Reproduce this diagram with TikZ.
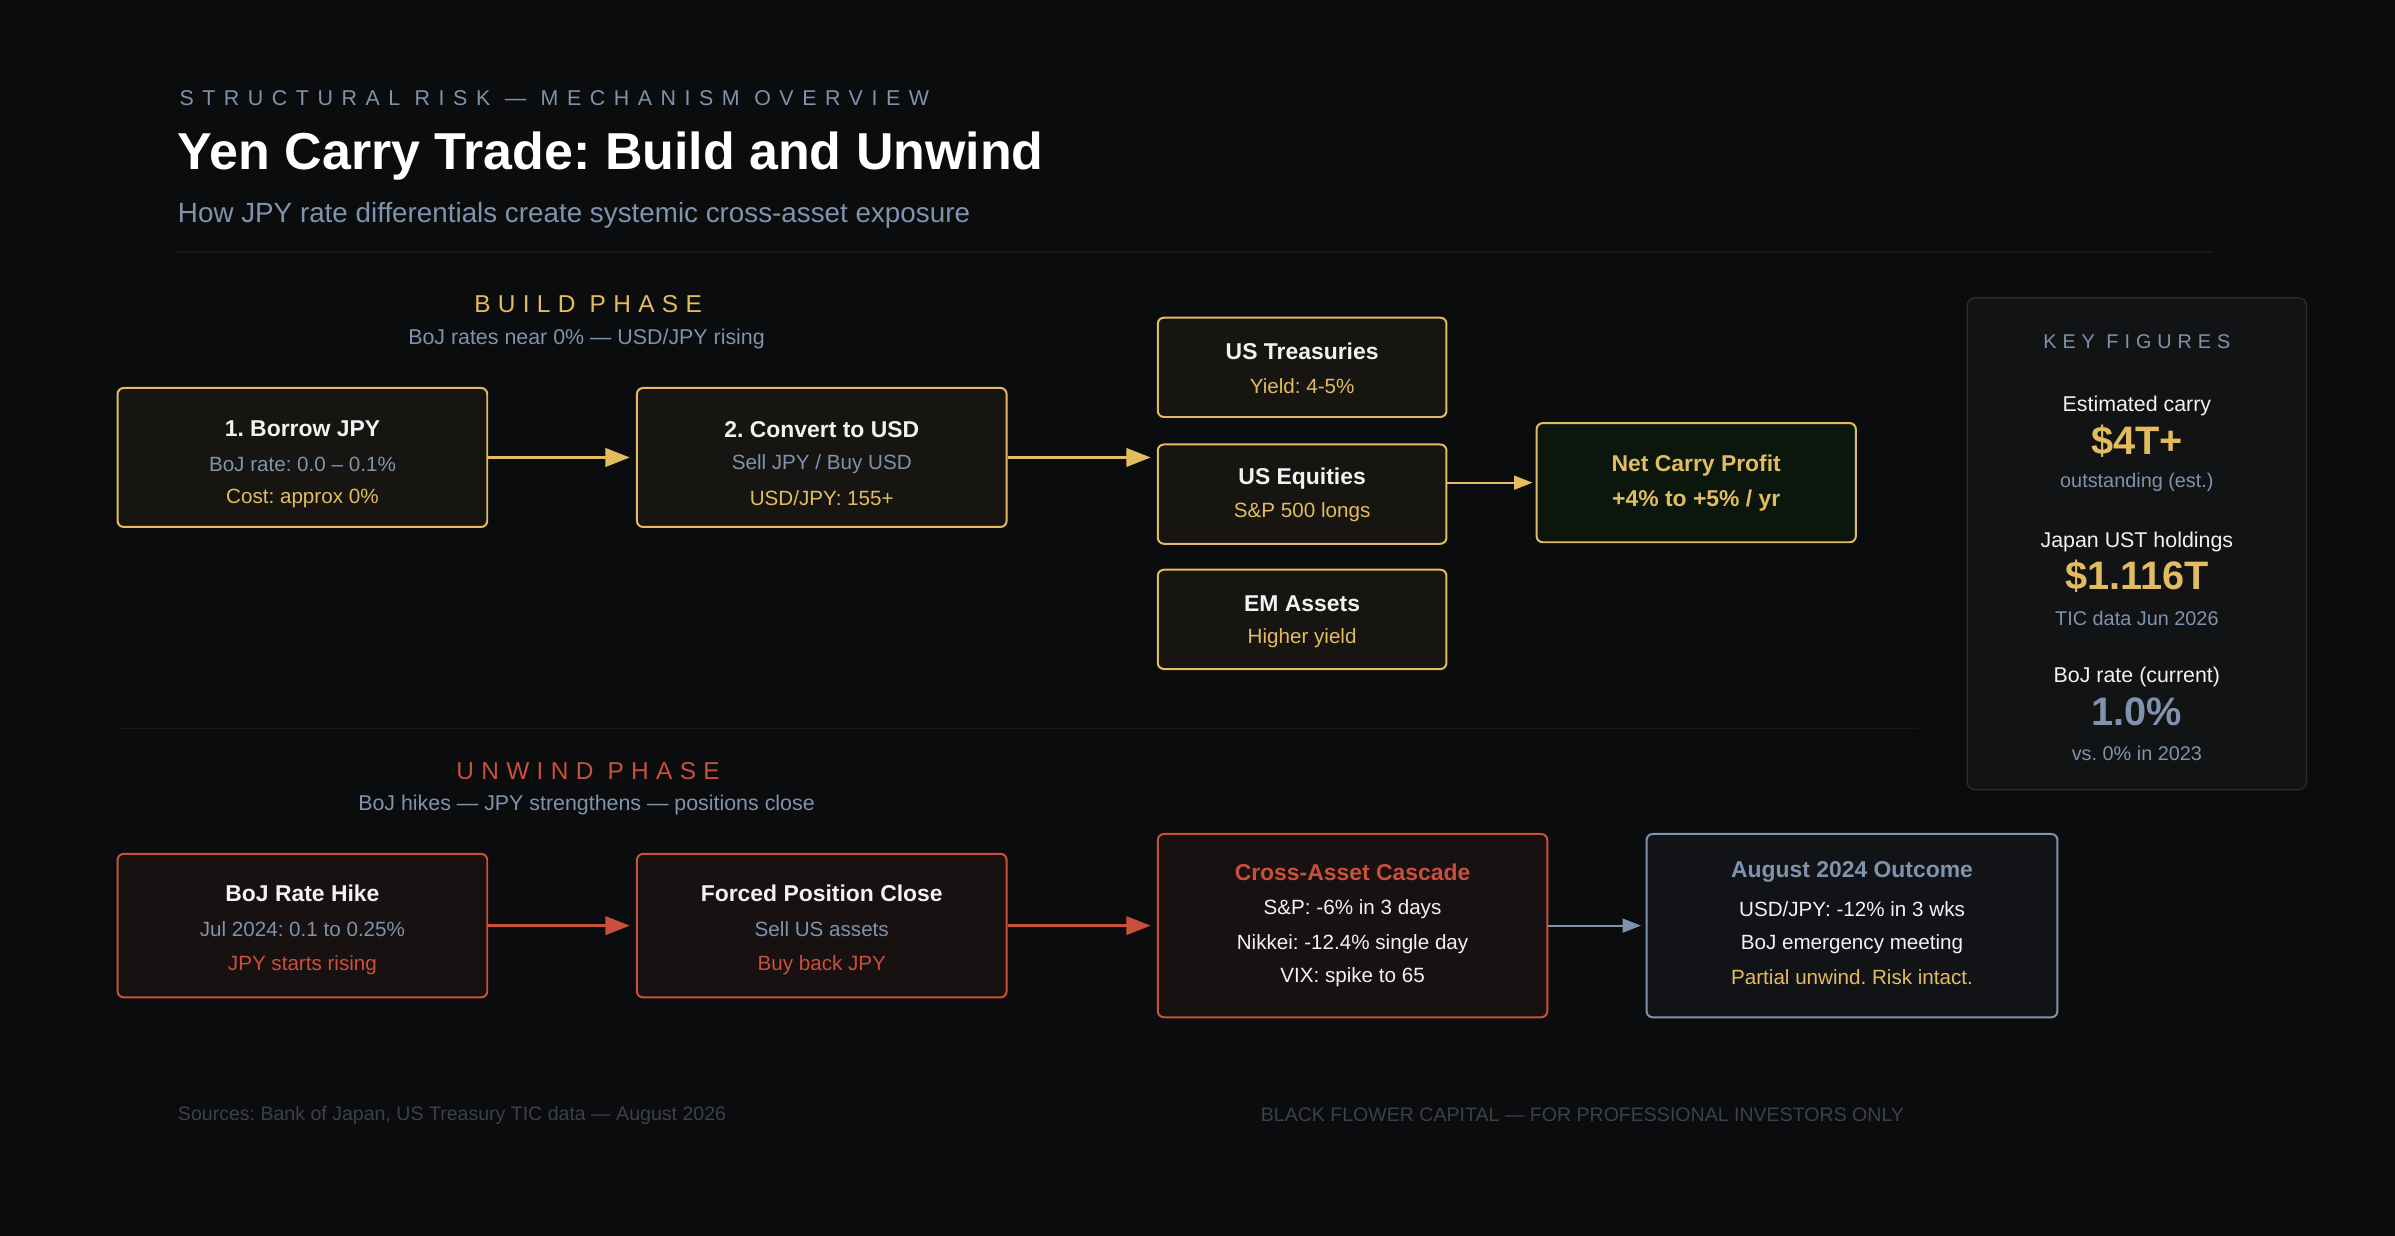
\documentclass[tikz,border=0pt]{standalone}
\usepackage{fontspec}
\setmainfont{Liberation Sans}
\newfontfamily\spacedf[LetterSpace=40]{Liberation Sans}
\newfontfamily\spacedg[LetterSpace=30]{Liberation Sans}
\usetikzlibrary{arrows.meta}
\definecolor{bg}{HTML}{0B0C0E}
\definecolor{gold}{HTML}{E2BC5E}
\definecolor{redc}{HTML}{C9503D}
\definecolor{slate}{HTML}{7F93AD}
\definecolor{dimt}{HTML}{3C4048}
\definecolor{ltxt}{HTML}{F2F2F2}
\tikzset{
 box/.style={draw, line width=1.3pt, rounded corners=4pt, align=center, inner sep=0pt},
 gbox/.style={box, draw=gold, fill=gold!5!bg},
 rbox/.style={box, draw=redc, fill=redc!7!bg},
 sbox/.style={box, draw=slate, fill=slate!5!bg},
 hd/.style={font=\fontsize{15}{18}\selectfont\bfseries, text=ltxt},
 sub/.style={font=\fontsize{13.5}{16}\selectfont},
 arr/.style={line width=2pt, -{Triangle[length=16pt,width=12pt]}},
}
\newcommand{\fs}[1]{\fontsize{#1}{#1}\selectfont}
\frenchspacing
\begin{document}
\frenchspacing
\begin{tikzpicture}[x=1pt,y=-1pt]
\fill[bg] (0,0) rectangle (1568,809);
\useasboundingbox (0,0) rectangle (1568,809);
% header
\node[anchor=west,text=slate,font=\spacedf\fs{14}] (kick) at (114,64) {STRUCTURAL RISK — MECHANISM OVERVIEW};
\node[anchor=west,text=white,font=\fs{34}\bfseries] (title) at (113,102) {Yen Carry Trade: Build and Unwind};
\node[anchor=west,text=slate,font=\fs{18.2}] (subt) at (113,141) {How JPY rate differentials create systemic cross-asset exposure};
\draw[white!5!bg,line width=0.8pt] (116,165) coordinate (s1) -- (1448,165) coordinate (s2);
% build
\node[text=gold,font=\spacedg\fs{16}] (bp) at (385,199) {BUILD PHASE};
\node[text=slate,font=\fs{14}] (bps) at (384,222) {BoJ rates near 0\% — USD/JPY rising};
\node[gbox,minimum width=242pt,minimum height=91pt] (b1) at (198,299.5) {};
\node[hd] at (198,281) {1. Borrow JPY};
\node[sub,text=slate] at (198,304) {BoJ rate: 0.0 – 0.1\%};
\node[sub,text=gold] at (198,326) {Cost: approx 0\%};
\node[gbox,minimum width=242pt,minimum height=91pt] (b2) at (538,299.5) {};
\node[hd] at (538,281) {2. Convert to USD};
\node[sub,text=slate] at (538,304) {Sell JPY / Buy USD};
\node[sub,text=gold] at (538,326) {USD/JPY: 155+};
\node[gbox,minimum width=189pt,minimum height=65pt] (t1) at (852.5,240.5) {};
\node[hd] at (852.5,230) {US Treasuries};
\node[sub,text=gold] at (852.5,253) {Yield: 4-5\%};
\node[gbox,minimum width=189pt,minimum height=65pt] (t2) at (852.5,323.5) {};
\node[hd] at (852.5,313) {US Equities};
\node[sub,text=gold] at (852.5,335) {S\&P 500 longs};
\node[gbox,minimum width=189pt,minimum height=65pt] (t3) at (852.5,405.5) {};
\node[hd] at (852.5,395) {EM Assets};
\node[sub,text=gold] at (852.5,418) {Higher yield};
\node[box,draw=gold,fill=green!4!bg,minimum width=209pt,minimum height=78pt] (nc) at (1110.5,316) {};
\node[hd,text=gold] at (1110.5,305) {Net Carry Profit};
\node[hd,text=gold] at (1110.5,328) {+4\% to +5\% / yr};
\draw[arr,gold] (b1.east) -- ([xshift=-4pt]b2.west);
\draw[arr,gold] (b2.east) -- ([xshift=-4pt]t2.west|-b2.east);
\draw[gold,line width=1.4pt,-{Triangle[length=12pt,width=9pt]}] (t2.east|-nc.west) -- ([xshift=-2pt]nc.west);
% key figures
\node[draw=white!14!bg,fill=white!3!bg,rounded corners=5pt,line width=0.8pt,minimum width=222pt,minimum height=322pt] (kf) at (1399,356) {};
\node[text=slate,font=\spacedg\fs{13}] at (1399,224) {KEY FIGURES};
\node[text=ltxt,font=\fs{14}] at (1399,266) {Estimated carry};
\node[text=gold,font=\fs{26}\bfseries] at (1399,289) {\$4T+};
\node[text=slate,font=\fs{13}] at (1399,316) {outstanding (est.)};
\node[text=ltxt,font=\fs{14}] at (1399,355) {Japan UST holdings};
\node[text=gold,font=\fs{26}\bfseries] at (1399,377) {\$1.116T};
\node[text=slate,font=\fs{13}] at (1399,405) {TIC data Jun 2026};
\node[text=ltxt,font=\fs{14}] at (1399,443) {BoJ rate (current)};
\node[text=slate,font=\fs{26}\bfseries] at (1399,466) {1.0\%};
\node[text=slate,font=\fs{13}] at (1399,493) {vs. 0\% in 2023};
\draw[white!5!bg,line width=0.8pt] (77,477) coordinate (s3) -- (1255,477) coordinate (s4);
% unwind
\node[text=redc,font=\spacedg\fs{16}] (up) at (385,505) {UNWIND PHASE};
\node[text=slate,font=\fs{14}] (ups) at (384,527) {BoJ hikes — JPY strengthens — positions close};
\node[rbox,minimum width=242pt,minimum height=94pt] (r1) at (198,606) {};
\node[hd] at (198,585) {BoJ Rate Hike};
\node[sub,text=slate] at (198,608) {Jul 2024: 0.1 to 0.25\%};
\node[sub,text=redc] at (198,632) {JPY starts rising};
\node[rbox,minimum width=242pt,minimum height=94pt] (r2) at (538,606) {};
\node[hd] at (538,585) {Forced Position Close};
\node[sub,text=slate] at (538,608) {Sell US assets};
\node[sub,text=redc] at (538,632) {Buy back JPY};
\node[rbox,minimum width=255pt,minimum height=120pt] (r3) at (885.5,606) {};
\node[hd,text=redc] at (885.5,571) {Cross-Asset Cascade};
\node[sub,text=ltxt] at (885.5,595) {S\&P: -6\% in 3 days};
\node[sub,text=ltxt] at (885.5,618) {Nikkei: -12.4\% single day};
\node[sub,text=ltxt] at (885.5,640) {VIX: spike to 65};
\node[sbox,minimum width=269pt,minimum height=120pt] (r4) at (1212.5,606) {};
\node[hd,text=slate] at (1212.5,571) {August 2024 Outcome};
\node[sub,text=ltxt] at (1212.5,595) {USD/JPY: -12\% in 3 wks};
\node[sub,text=ltxt] at (1212.5,618) {BoJ emergency meeting};
\node[sub,text=gold] at (1212.5,640) {Partial unwind. Risk intact.};
\draw[arr,redc] (r1.east) -- ([xshift=-4pt]r2.west);
\draw[arr,redc] (r2.east) -- ([xshift=-4pt]r3.west);
\draw[slate,line width=1.4pt,-{Triangle[length=12pt,width=9pt]}] (r3.east) -- ([xshift=-3pt]r4.west);
% footer
\node[anchor=west,text=dimt,font=\fs{12.8}] (f1) at (113,730) {Sources: Bank of Japan, US Treasury TIC data — August 2026};
\node[text=dimt,font=\fs{12.8}] (f2) at (1036,730) {BLACK FLOWER CAPITAL — FOR PROFESSIONAL INVESTORS ONLY};
\end{tikzpicture}
\end{document}
